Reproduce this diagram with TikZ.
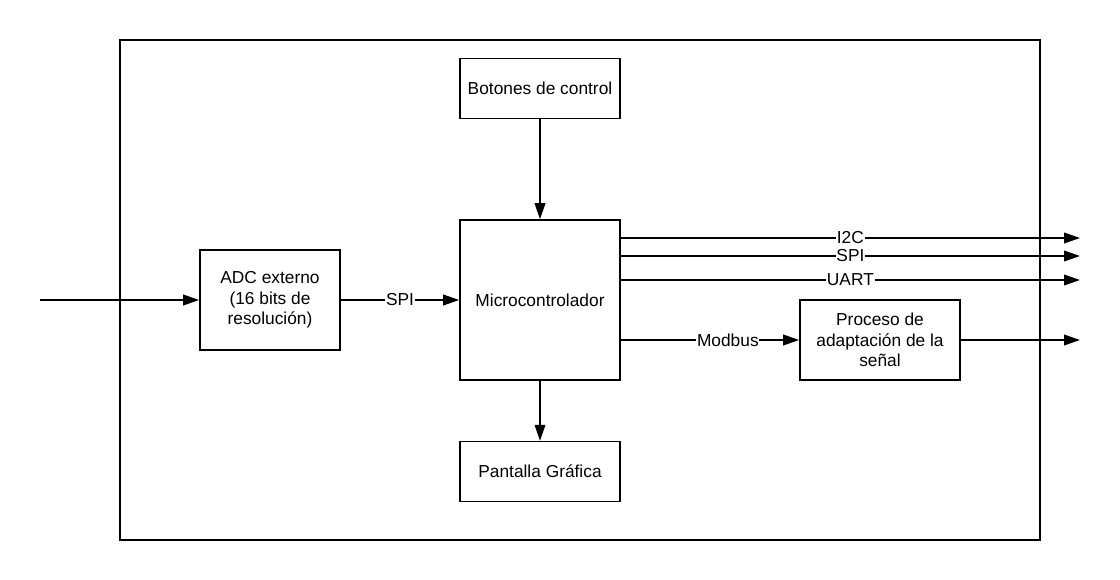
\documentclass[tikz,border=0pt]{standalone}
\usepackage{fontspec}
\setmainfont{Liberation Sans}
\usetikzlibrary{arrows.meta, positioning}

\begin{document}
\begin{tikzpicture}[
  x=0.75pt, y=-0.75pt,
  node distance=75pt and 90pt,
  box/.style={draw, line width=1.2pt, align=center, inner sep=1pt, font=\fontsize{13}{15.5}\selectfont},
  arrow/.style={-{Triangle[length=12pt, width=8pt]}, line width=1.2pt},
  lbl/.style={fill=white, inner sep=0.5pt, font=\fontsize{13}{15}\selectfont},
]
\useasboundingbox (0,0) rectangle (1120,580);

% Frame
\draw[line width=1.2pt] (120,40) rectangle (1040,540);

% Nodes
\node[box, minimum width=120pt, minimum height=120pt] (micro) at (540,300) {Microcontrolador};
\node[box, minimum width=120pt, minimum height=45pt, above=75pt of micro] (btn) {Botones de control};
\node[box, minimum width=120pt, minimum height=45pt, below=45pt of micro] (lcd) {Pantalla Gráfica};
\node[box, minimum width=105pt, minimum height=75pt] (adc) at (270,300) {ADC externo\\(16 bits de\\resolución)};
\node[box, minimum width=120pt, minimum height=60pt] (proc) at (880,340) {Proceso de\\adaptación de la\\señal};

% Free ends
\coordinate (in) at (40,300);
\coordinate (oI) at (1080,238);
\coordinate (oS) at (1080,256);
\coordinate (oU) at (1080,280);
\coordinate (oP) at (1080,340);

% Arrows
\draw[arrow] (in) -- (adc);
\draw[arrow] (adc) -- node[lbl] {SPI} (micro);
\draw[arrow] (btn) -- (micro);
\draw[arrow] (micro) -- (lcd);
\draw[arrow] (micro.east |- oI) -- node[lbl] {I2C} (oI);
\draw[arrow] (micro.east |- oS) -- node[lbl] {SPI} (oS);
\draw[arrow] (micro.east |- oU) -- node[lbl] {UART} (oU);
\draw[arrow] (micro.east |- proc) -- node[lbl, pos=0.6] {Modbus} (proc);
\draw[arrow] (proc) -- (oP);
\end{tikzpicture}
\end{document}
